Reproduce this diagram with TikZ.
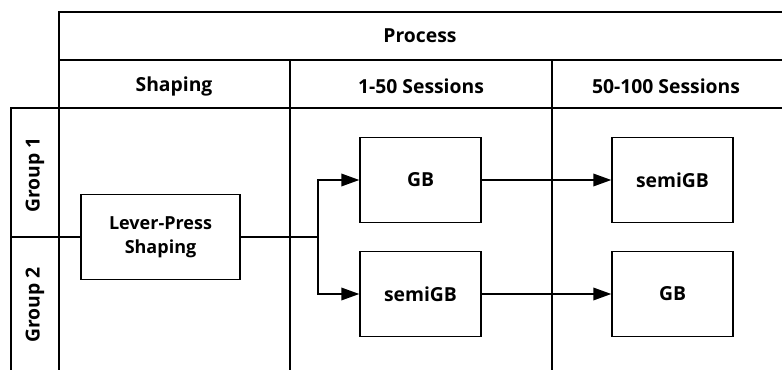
\documentclass[tikz,border=0pt]{standalone}
\usepackage{fontspec}
\setmainfont{Open Sans}
\usetikzlibrary{arrows.meta}

\tikzset{every picture/.style={line width=1.1pt}}
\tikzset{
  stage/.style={draw, fill=white, minimum width=90.75pt, minimum height=63.75pt, inner sep=0.75pt, align=center, font=\bfseries\fontsize{14.5}{18}\selectfont},
  head/.style={inner sep=0.75pt, font=\bfseries\fontsize{14.5}{18}\selectfont},
  flow/.style={-{Triangle[length=13.5pt,width=9.5pt]}}
}

\begin{document}
\begin{tikzpicture}[x=0.75pt,y=0.75pt,yscale=-1,xscale=1]
\useasboundingbox (0,0) rectangle (782,370);

%Table lines
\draw (59,370) -- (59,12) -- (782,12) ;
\draw (59,60) -- (782,60) ;
\draw (11,370) -- (11,108) -- (782,108) ;
\draw (290,60) -- (290,370) ;
\draw (552,60) -- (552,370) ;

% Header Text
\draw (420,36) node [head] (process) {Process};
\draw (174,86) node [head] (shaping) {Shaping};
\draw (421,86) node [head] (early) {1-50 Sessions};
\draw (666,86) node [head] (late) {50-100 Sessions};
\draw (35,175) node [head, rotate=90] (grpa) {Group 1};
\draw (35,305) node [head, rotate=90] (grpb) {Group 2};

% Boxes
\draw (160.5,237) node [stage, minimum width=119.25pt, font=\bfseries\fontsize{13.5}{18}\selectfont] (lever) {Lever-Press\\Shaping};
\draw (420.5,180) node [stage] (gbA) {GB};
\draw (420.5,294) node [stage] (semiA) {semiGB};
\draw (672.5,180) node [stage] (semiB) {semiGB};
\draw (672.5,294) node [stage] (gbB) {GB};

%Connectors
\coordinate (split) at (11,237);
\coordinate (fork) at (318,237);
\draw (split) -- (lever.west) ;
\draw (lever.east) -- (fork) ;
\draw[flow] (fork) |- (gbA.west) ;
\draw[flow] (fork) |- (semiA.west) ;
\draw[flow] (gbA.east) -- (semiB.west) ;
\draw[flow] (semiA.east) -- (gbB.west) ;

\end{tikzpicture}
\end{document}
